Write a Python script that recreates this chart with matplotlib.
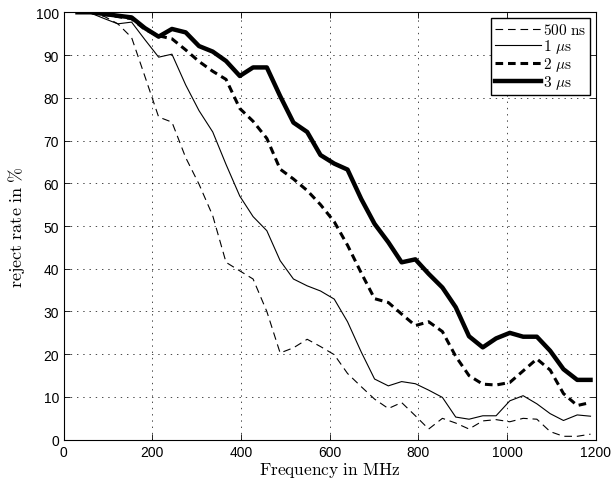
import numpy as np
import matplotlib
matplotlib.use("Agg")
import matplotlib.pyplot as plt

plt.rcParams['font.family'] = ['Liberation Sans', 'DejaVu Sans']
plt.rcParams['mathtext.fontset'] = 'cm'
plt.rcParams['lines.scale_dashes'] = False

# frequency samples (MHz)
freq = [31, 61, 92, 122, 153, 183, 214, 244, 275, 305, 336, 366, 397, 427, 458,
        488, 518, 549, 579, 610, 640, 671, 701, 732, 762, 793, 823, 854, 884, 914,
        945, 975, 1006, 1036, 1067, 1097, 1127, 1158, 1188]

# reject rate in % per pulse length
rate_500ns = [100, 99.8, 99, 97.3, 94.1, 85, 75.5, 74.3, 66, 59.8, 52.4, 41.5, 39.5, 37.6, 30,
              20.3, 21.5, 23.5, 21.8, 19.9, 15.5, 12.4, 9.5, 7.3, 8.7, 5.6, 2.5, 5.0, 3.9, 2.5,
              4.4, 4.7, 4.2, 5.0, 4.8, 1.9, 0.8, 0.8, 1.3]
rate_1us = [100, 99.8, 98.5, 97.3, 97.7, 93.6, 89.5, 90.2, 83, 77, 72, 64.4, 57, 52.2, 48.9,
            41.9, 37.6, 36, 34.8, 32.9, 27.6, 20.5, 14.2, 12.6, 13.6, 13.1, 11.6, 9.9, 5.3, 4.8,
            5.6, 5.6, 9.1, 10.3, 8.4, 6.1, 4.5, 5.8, 5.5]
rate_2us = [100, 100, 99.5, 99, 98.5, 96, 94.5, 93.8, 91.2, 88.5, 86.2, 84.3, 77.5, 74.5, 70.5,
            63.3, 61, 58.3, 55, 51, 45.5, 39, 33, 32.1, 29.4, 26.7, 27.6, 25.3, 19.5, 15,
            13, 12.8, 13.4, 16.1, 18.9, 16.3, 10.8, 8.0, 8.7]
rate_3us = [100, 100, 99.6, 99.2, 98.8, 96.3, 94.3, 96.1, 95.3, 92.1, 90.8, 88.6, 85.1, 87.1, 87.1,
            80.4, 74.2, 72, 66.6, 64.6, 63.2, 56.3, 50.5, 46.2, 41.5, 42.2, 38.8, 35.6, 31, 24.2,
            21.6, 23.7, 25, 24.1, 24.1, 20.8, 16.5, 14, 14]

labels = [r'$\mathrm{500\ ns}$', r'$\mathrm{1}\ \mu\mathrm{s}$',
          r'$\mathrm{2}\ \mu\mathrm{s}$', r'$\mathrm{3}\ \mu\mathrm{s}$']

fig = plt.figure(figsize=(6.13, 4.85), dpi=100)
ax = fig.add_axes([0.104, 0.0913, 0.868, 0.8813])

ax.plot(freq, rate_500ns, color='k', lw=0.8, linestyle=(0, (5.5, 3.5)), label=labels[0])
ax.plot(freq, rate_1us, color='k', lw=0.8, label=labels[1])
ax.plot(freq, rate_2us, color='k', lw=2.2, linestyle=(0, (5.5, 3.5)), label=labels[2])
ax.plot(freq, rate_3us, color='k', lw=3.2, label=labels[3])

ax.set_xlim(0, 1200)
ax.set_ylim(0, 100)
ax.set_xticks(np.arange(0, 1201, 200))
ax.set_yticks(np.arange(0, 101, 10))
ax.tick_params(direction='in', top=True, right=True, length=4, width=0.6, labelsize=10)
ax.grid(True, color='k', linestyle=(0, (1, 3.5)), linewidth=0.5)
for s in ax.spines.values():
    s.set_linewidth(0.8)

ax.set_xlabel(r'$\mathrm{Frequency\ in\ MHz}$', fontsize=12.5, labelpad=1)
ax.set_ylabel(r'$\mathrm{reject\ rate\ in\ \%}$', fontsize=13, labelpad=6)

leg = ax.legend(loc='upper right', fontsize=11, handlelength=3.0, handletextpad=0.1,
                labelspacing=0.0, borderpad=0.25, fancybox=False, framealpha=1,
                borderaxespad=0.4)
leg.get_frame().set_edgecolor('k')
leg.get_frame().set_linewidth(1.0)

fig.savefig("out.png", dpi=100)
